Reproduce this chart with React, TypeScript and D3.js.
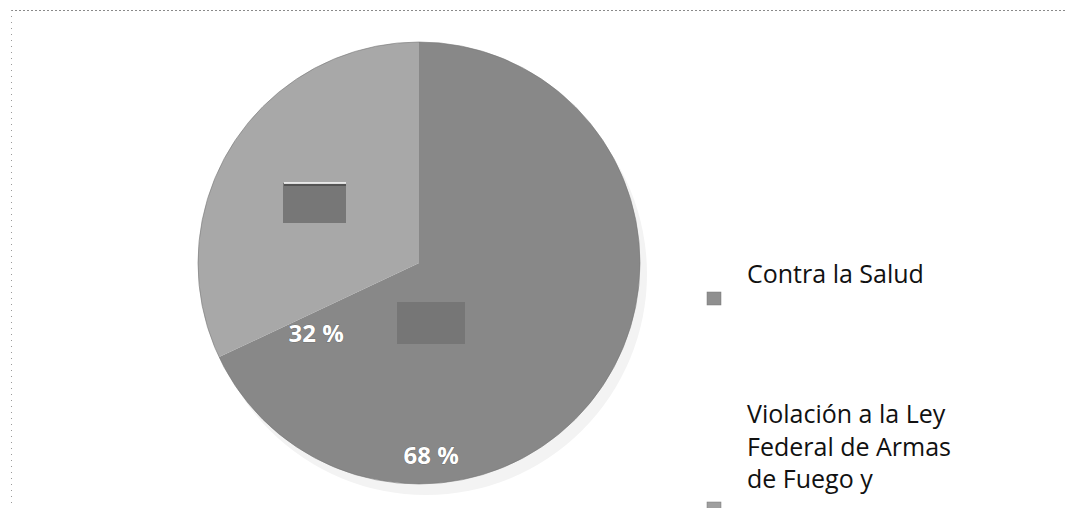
import React from "react";
import * as d3 from "d3";

const categories = ["Contra la Salud", "Violación a la Ley Federal de Armas de Fuego y"];
const values = [68, 32];
const legendLines = [["Contra la Salud"], ["Violación a la Ley", "Federal de Armas", "de Fuego y"]];
const sliceColors = ["#888888", "#a8a8a8"];

const W = 1065;
const H = 508;
const cx = 419;
const cy = 263;
const R = 221;

export default function App() {
  const pie = d3.pie<number>().value((d) => d).sort(null).startAngle(0).endAngle(2 * Math.PI);
  const arcs = pie(values);
  const arcGen = d3.arc<d3.PieArcDatum<number>>().innerRadius(0).outerRadius(R);
  // label offsets (fractions of radius)
  const labelPos = [
    [0.055, 0.865],
    [-0.465, 0.315],
  ];
  return (
    <svg
      width={W}
      height={H}
      style={{ position: "absolute", left: 0, top: 0, background: "#fff" }}
      fontFamily="'Open Sans', sans-serif"
    >
      <line x1={11} y1={10.5} x2={W} y2={10.5} stroke="#8a8a8a" strokeWidth={1} strokeDasharray="2,2" />
      <line x1={11.5} y1={10} x2={11.5} y2={H} stroke="#9a9a9a" strokeWidth={1} strokeDasharray="1,5" />
      {/* soft shadow */}
      <circle cx={cx + 7} cy={cy + 11} r={R} fill="#f3f3f3" />
      <g transform={`translate(${cx},${cy})`}>
        {arcs.map((a, i) => (
          <path key={categories[i]} d={arcGen(a) || ""} fill={sliceColors[i]} />
        ))}
        <circle r={R} fill="none" stroke="#777" strokeWidth={0.6} />
        {/* darker label box shadows seen in the scan */}
        <rect x={283 - cx} y={183 - cy} width={63} height={40} fill="#6e6e6e" opacity={0.85} />
        <line x1={284 - cx} x2={346 - cx} y1={183 - cy} y2={183 - cy} stroke="#fff" strokeWidth={1.5} />
        <line x1={284 - cx} x2={346 - cx} y1={185 - cy} y2={185 - cy} stroke="#333" strokeWidth={1} />
        <rect x={397 - cx} y={302 - cy} width={68} height={42} fill="#6a6a6a" opacity={0.6} />
        {arcs.map((a, i) => (
          <text
            key={"l" + i}
            x={labelPos[i][0] * R}
            y={labelPos[i][1] * R}
            textAnchor="middle"
            dominantBaseline="central"
            fill="#fff"
            fontWeight="bold"
            fontSize={24}
            stroke="#555"
            strokeWidth={0.6}
            paintOrder="stroke"
          >
            {`${a.data} %`}
          </text>
        ))}
      </g>
      {/* legend */}
      {legendLines.map((lines, i) => {
        const markerY = i === 0 ? 292 : 502;
        const textY = i === 0 ? 283 : 423;
        return (
          <g key={"lg" + i}>
            <rect x={707} y={markerY} width={14} height={13} fill={i === 0 ? "#8f8f8f" : "#9f9f9f"} stroke="#777" strokeWidth={0.5} />
            {lines.map((t, j) => (
              <text key={t} x={747} y={textY + j * 32.5} fontSize={25} fill="#111">
                {t}
              </text>
            ))}
          </g>
        );
      })}
    </svg>
  );
}
